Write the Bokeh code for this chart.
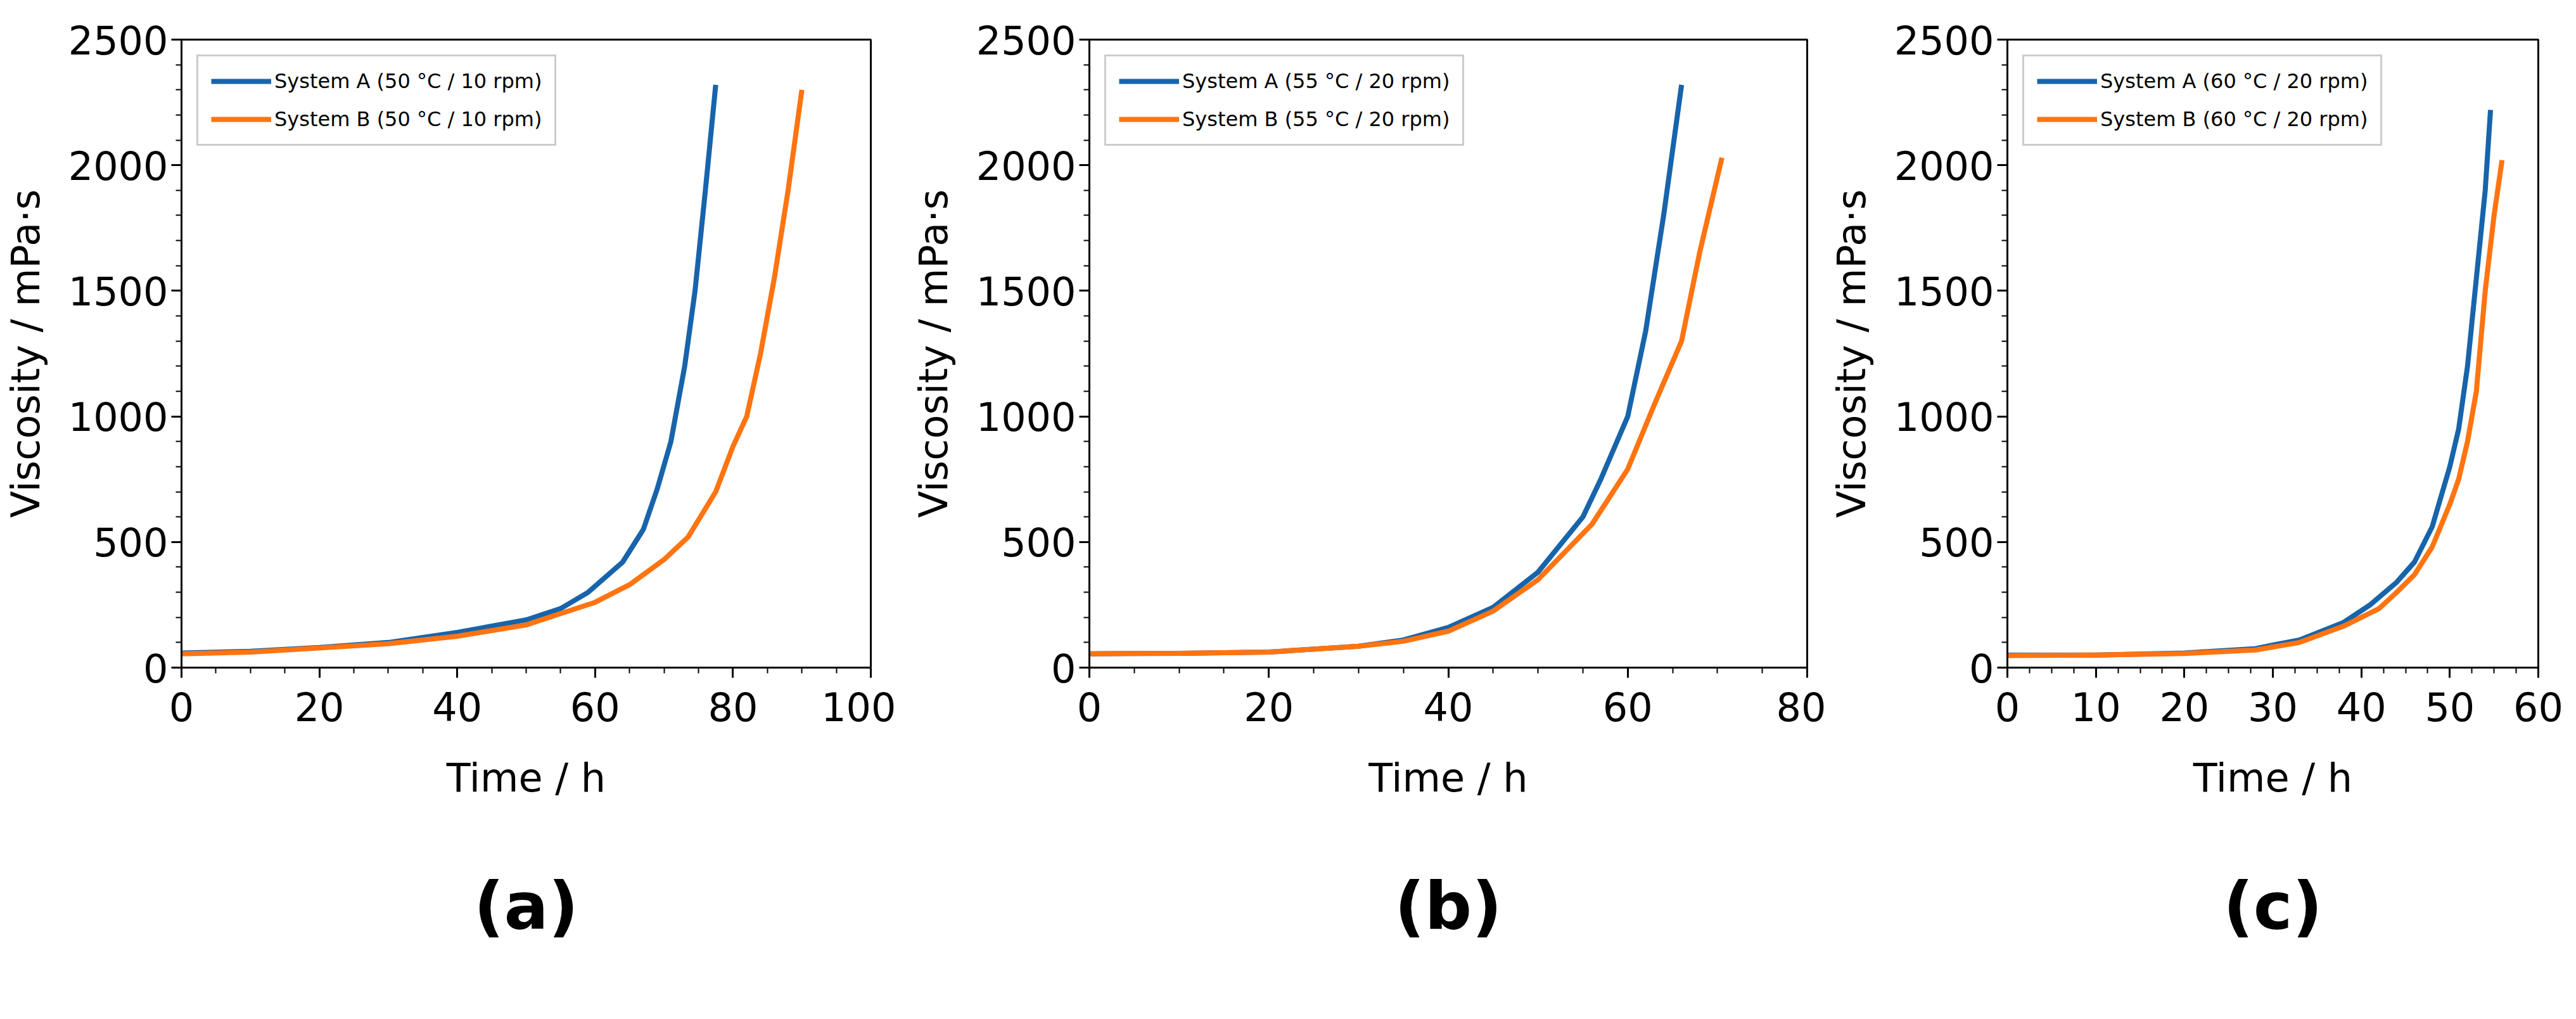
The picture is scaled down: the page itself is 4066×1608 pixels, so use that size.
from bokeh.plotting import figure
from bokeh.models import Range1d, Legend, LegendItem, Title, SingleIntervalTicker
from bokeh.layouts import row
from bokeh.embed import file_html
from bokeh.resources import INLINE

# Panel (a)
a_tA = [0, 10, 20, 30, 40, 50, 55, 59, 64, 67, 69, 71, 73, 74.5, 76, 77.5]
a_vA = [58, 65, 80, 100, 140, 190, 235, 300, 420, 550, 710, 900, 1200, 1500, 1900, 2320]
a_tB = [0, 10, 20, 30, 40, 50, 55, 60, 65, 70, 73.5, 77.5, 80, 82, 84, 86, 88, 90]
a_vB = [55, 62, 78, 95, 125, 170, 215, 260, 330, 430, 520, 700, 880, 1000, 1250, 1550, 1900, 2300]
# Panel (b)
b_tA = [0, 10, 20, 30, 35, 40, 45, 50, 55, 57, 60, 62, 64, 66]
b_vA = [55, 57, 62, 85, 110, 160, 240, 380, 600, 750, 1000, 1340, 1800, 2320]
b_tB = [0, 10, 20, 30, 35, 40, 45, 50, 56, 60, 63, 66, 68, 70.5]
b_vB = [55, 57, 62, 85, 105, 145, 225, 350, 570, 790, 1050, 1300, 1650, 2030]
# Panel (c)
c_tA = [0, 10, 20, 28, 30, 33, 38, 41, 44, 46, 48, 50, 51, 52, 53, 54, 54.6]
c_vA = [50, 50, 58, 75, 90, 110, 180, 250, 340, 420, 560, 800, 950, 1200, 1550, 1900, 2220]
c_tB = [0, 10, 20, 28, 33, 38, 42, 44, 46, 48, 50, 51, 52, 53, 54, 55, 55.9]
c_vB = [48, 50, 56, 70, 100, 165, 235, 300, 370, 480, 650, 750, 900, 1100, 1500, 1800, 2020]

panels = [
    ("(a)", "50 °C / 10 rpm", a_tA, a_vA, a_tB, a_vB, 100, 20, 5),
    ("(b)", "55 °C / 20 rpm", b_tA, b_vA, b_tB, b_vB, 80, 20, 5),
    ("(c)", "60 °C / 20 rpm", c_tA, c_vA, c_tB, c_vB, 60, 10, 2.5),
]
geo = [(277, 1097, 40), (305, 1133, 30), (190, 934, 44)]

BLUE = "#1764ab"
ORANGE = "#ff7410"
FONT = "DejaVu Sans"
figs = []
for (lab, cond, tA, vA, tB, vB, xmax, xstep, xminor), (lb, fw, rb) in zip(panels, geo):
    p = figure(width=lb + fw + rb, height=1590, output_backend="svg", toolbar_location=None,
               x_range=Range1d(0, xmax), y_range=Range1d(0, 2500),
               min_border_left=lb, min_border_right=rb, min_border_top=62, min_border_bottom=0)
    p.grid.visible = False
    p.outline_line_color = "black"
    p.outline_line_width = 3
    rA = p.line(tA, vA, line_color=BLUE, line_width=8)
    rB = p.line(tB, vB, line_color=ORANGE, line_width=8)
    p.xaxis.ticker = SingleIntervalTicker(interval=xstep, num_minor_ticks=int(round(xstep / xminor)))
    p.yaxis.ticker = SingleIntervalTicker(interval=500, num_minor_ticks=5)
    for ax in (p.xaxis, p.yaxis):
        ax.major_label_text_font = FONT
        ax.major_label_text_font_size = "62px"
        ax.major_label_text_color = "black"
        ax.axis_label_text_font = FONT
        ax.axis_label_text_font_size = "62px"
        ax.axis_label_text_font_style = "normal"
        ax.axis_label_text_color = "black"
        ax.axis_line_color = "black"
        ax.axis_line_width = 3
        ax.major_tick_line_width = 3
        ax.minor_tick_line_width = 2
        ax.major_tick_out = 16
        ax.major_tick_in = 0
        ax.minor_tick_out = 9
        ax.minor_tick_in = 0
    p.xaxis.major_label_standoff = 22
    p.xaxis.axis_label_standoff = 50
    p.xaxis.axis_label = "Time / h"
    p.yaxis.axis_label = "Viscosity / mPa·s"
    p.yaxis.axis_label_standoff = 28
    leg = Legend(items=[LegendItem(label=f"System A ({cond})", renderers=[rA]),
                        LegendItem(label=f"System B ({cond})", renderers=[rB])],
                 location="top_left", label_text_font=FONT, label_text_font_size="32px",
                 label_text_color="black",
                 glyph_width=95, glyph_height=36, label_height=36, spacing=22,
                 padding=20, margin=24, border_line_color="#cccccc", border_line_width=3,
                 border_line_alpha=1.0, background_fill_alpha=0.9)
    p.add_layout(leg)
    t = Title(text=lab, align="center", text_font=FONT, text_font_size="104px",
              text_font_style="bold", text_color="black", standoff=200)
    p.add_layout(t, "below")
    figs.append(p)

layout = row(*figs)
open("out.html", "w").write(file_html(layout, INLINE))
